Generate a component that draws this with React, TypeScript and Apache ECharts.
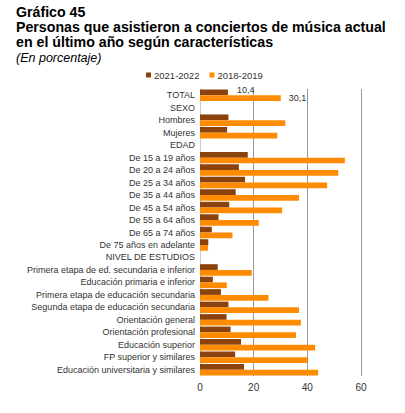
import React, { useEffect, useRef } from "react";
import * as echarts from "echarts";

const categories = [
  "TOTAL",
  "SEXO",
  "Hombres",
  "Mujeres",
  "EDAD",
  "De 15 a 19 años",
  "De 20 a 24 años",
  "De 25 a 34 años",
  "De 35 a 44 años",
  "De 45 a 54 años",
  "De 55 a 64 años",
  "De 65 a 74 años",
  "De 75 años en adelante",
  "NIVEL DE ESTUDIOS",
  "Primera etapa de ed. secundaria e inferior",
  "Educación primaria e inferior",
  "Primera etapa de educación secundaria",
  "Segunda etapa de educación secundaria",
  "Orientación general",
  "Orientación profesional",
  "Educación superior",
  "FP superior y similares",
  "Educación universitaria y similares",
];

const values2021 = [10.4, null, 10.6, 10.1, null, 17.8, 14.5, 16.8, 13.3, 10.9, 6.9, 4.4, 3.1, null, 6.6, 4.8, 7.8, 10.6, 9.9, 11.4, 15.3, 13.1, 16.4];
const values2018 = [30.1, null, 31.8, 28.8, null, 54.0, 51.5, 47.4, 36.9, 30.6, 21.9, 12.1, 3.0, null, 19.3, 10.0, 25.5, 36.9, 37.6, 35.8, 42.9, 40.1, 44.0];

const seriesNames = ["2021-2022", "2018-2019"];
const xTicks = { min: 0, max: 60, interval: 20 };

const FONT = "'Liberation Sans', Arial, sans-serif";

export default function App() {
  const ref = useRef<HTMLDivElement>(null);
  useEffect(() => {
    if (!ref.current) return;
    document.body.style.margin = "0";
    const chart = echarts.init(ref.current, null, { renderer: "svg" });
    const fmt = (p: any) => String(p.value).replace(".", ",");
    const mk = (vals: (number | null)[], offset: number[]) =>
      vals.map((v, i) =>
        i === 0
          ? {
              value: v,
              label: {
                show: true,
                position: "right",
                offset,
                formatter: fmt,
                fontSize: 9,
                color: "#333",
                fontFamily: FONT,
              },
            }
          : v
      );
    chart.setOption({
      animation: false,
      textStyle: { fontFamily: FONT },
      graphic: [
        { type: "text", left: 16, top: 5, style: { text: "Gráfico 45", font: `bold 14.2px ${FONT}`, fill: "#000" } },
        { type: "text", left: 16, top: 20, style: { text: "Personas que asistieron a conciertos de música actual", font: `bold 14.2px ${FONT}`, fill: "#000" } },
        { type: "text", left: 16, top: 35, style: { text: "en el último año según características", font: `bold 14.2px ${FONT}`, fill: "#000" } },
        { type: "text", left: 16, top: 51, style: { text: "(En porcentaje)", font: `italic 12.5px ${FONT}`, fill: "#000" } },
      ],
      legend: {
        left: 141,
        top: 68,
        padding: [2, 5, 0, 5],
        itemWidth: 5,
        itemHeight: 5,
        itemGap: 10,
        icon: "rect",
        textStyle: { fontSize: 9.5, color: "#333", padding: [0, 0, 0, -2] },
        data: seriesNames,
      },
      grid: { left: 200, right: 44, top: 89, bottom: 37 },
      xAxis: {
        type: "value",
        min: xTicks.min,
        max: xTicks.max,
        interval: xTicks.interval,
        axisLine: { show: false },
        axisTick: { show: false },
        splitLine: { lineStyle: { color: "#999", width: 1 } },
        axisLabel: { fontSize: 10, color: "#333", margin: 6 },
      },
      yAxis: {
        type: "category",
        inverse: true,
        data: categories,
        axisLine: { show: true, lineStyle: { color: "#ccc" } },
        axisTick: { show: false },
        axisLabel: { fontSize: 9, color: "#333", margin: 5 },
      },
      series: [
        {
          name: seriesNames[0],
          type: "bar",
          data: mk(values2021, [4, -2]),
          itemStyle: { color: "#8C420C" },
          barGap: "0%",
          barCategoryGap: "8%",
        },
        {
          name: seriesNames[1],
          type: "bar",
          data: mk(values2018, [3, 0]),
          itemStyle: { color: "#FF8C00" },
          barGap: "0%",
          barCategoryGap: "8%",
        },
      ],
    });
    return () => chart.dispose();
  }, []);
  return <div ref={ref} style={{ width: 405, height: 413 }} />;
}
